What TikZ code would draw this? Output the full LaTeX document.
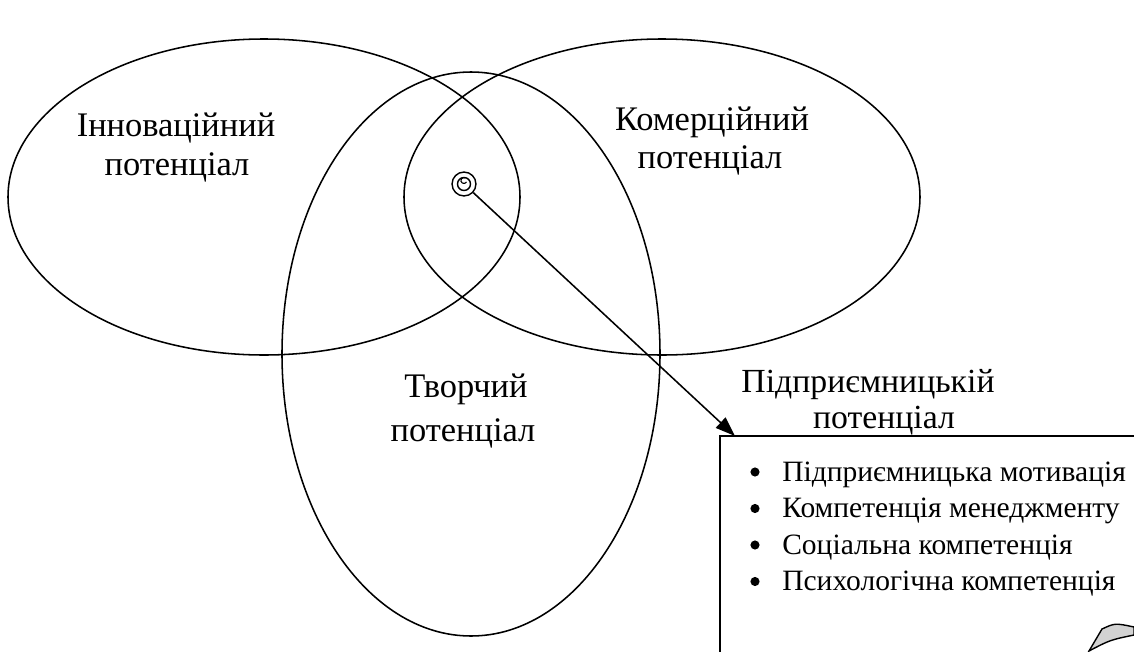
\documentclass[tikz,border=0pt]{standalone}
\usepackage{fontspec}
\setmainfont{Liberation Serif}
\usetikzlibrary{arrows.meta,calc}
\begin{document}
\begin{tikzpicture}[x=0.025cm,y=-0.025cm,
  ring/.style={draw,line width=1.1pt},
  big/.style={font=\fontsize{24.5}{28}\selectfont,inner sep=0pt,anchor=base},
  mid/.style={font=\fontsize{24}{28}\selectfont,inner sep=0pt,anchor=base},
  item/.style={font=\fontsize{21}{25}\selectfont,inner sep=0pt,anchor=base west},
  dot/.style={circle,fill,inner sep=0pt,minimum size=6.5pt}]
\useasboundingbox (0,0) rectangle (1134,652);
% the three potentials
\draw[ring] (264,197) ellipse [x radius=256,y radius=158];
\draw[ring] (662,197) ellipse [x radius=258,y radius=158];
\draw[ring] (471,354) ellipse [x radius=189,y radius=282];
% labels inside the ellipses
\node[big] (inn1) at (176,136) {Інноваційний};
\node[big] (inn2) at (177,175) {потенціал};
\node[big] (kom1) at (712,130) {Комерційний};
\node[big] (kom2) at (710,168) {потенціал};
\node[big] (tv1) at (466,397) {Творчий};
\node[big] (tv2) at (463,441) {потенціал};
% centre mark
\node[circle,draw,line width=1pt,minimum size=17pt,inner sep=0pt] (core) at (464,184) {};
\draw[line width=1pt] (core.center) circle [radius=6.5];
\draw[line width=0.8pt] ($(core.center)+(2.5,-2)$) arc [start angle=30,end angle=300,radius=3];
% entrepreneurial potential box
\coordinate (boxtl) at (720,436);
\coordinate (boxin) at (735,436);
\draw[line width=1.1pt] (720,652) -- (boxtl) -- (1134,436);
\draw[line width=1.1pt,-{Triangle[length=14pt,width=10pt]}] (core) -- (boxin);
\node[mid] (pp1) at (868,392) {Підприємницькій};
\node[mid] (pp2) at (884,428) {потенціал};
\foreach \t [count=\i] in {Підприємницька мотивація,Компетенція менеджменту,Соціальна компетенція,Психологічна компетенція}{
  \node[dot] (b\i) at (755,{472+36.5*(\i-1)}) {};
  \node[item] (it\i) at (782,{481+36.5*(\i-1)}) {\t};
}
% curled corner
\draw[line width=1pt,fill=gray!35] (1089,651) -- (1102,629) .. controls (1115,623) .. (1134,627) -- (1134,635) .. controls (1110,640) .. (1089,651) -- cycle;
\end{tikzpicture}
\end{document}
